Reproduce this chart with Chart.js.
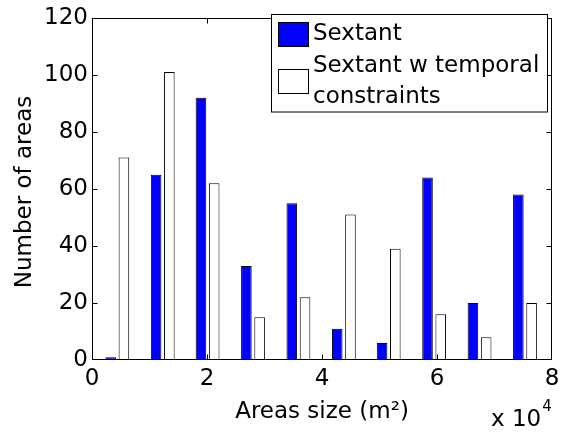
<!DOCTYPE html>
<html>
<head>
<meta charset="utf-8">
<script src="https://cdn.jsdelivr.net/npm/chart.js@4/dist/chart.umd.min.js"></script>
<style>
  html, body { margin: 0; padding: 0; background: #fff; }
  #c { display: block; }
</style>
</head>
<body>
<canvas id="c" width="566" height="434"></canvas>
<script>
// Bin centres (units of 10^4 m^2)
const binCenters = [0.44, 1.23, 2.01, 2.80, 3.59, 4.38, 5.16, 5.95, 6.74, 7.53];
// Number of areas per bin
const sextant         = [1, 65, 92, 33, 55, 11, 6, 64, 20, 58];
const sextantTemporal = [71, 101, 62, 15, 22, 51, 39, 16, 8, 20];
// Labels
const seriesLabels = ['Sextant', ['Sextant w temporal', 'constraints']];
const xTitle = 'Areas size (m\u00B2)';
const yTitle = 'Number of areas';
const xExponent = ['x 10', '4'];
const xTickValues = [0, 2, 4, 6, 8];
const yTickValues = [0, 20, 40, 60, 80, 100, 120];

const FONT = 'DejaVu Sans';
Chart.defaults.font.family = FONT;
Chart.defaults.font.size = 23;
Chart.defaults.color = '#000';

const boxPlugin = {
  id: 'matlabBox',
  afterDraw(chart) {
    const ctx = chart.ctx;
    const a = chart.chartArea;
    const xs = chart.scales.x, ys = chart.scales.y;
    ctx.save();
    ctx.strokeStyle = '#000';
    ctx.lineWidth = 1;
    const L = Math.round(a.left) + 0.5, R = Math.round(a.right) - 0.5;
    const T = Math.round(a.top) + 0.5, B = Math.round(a.bottom) - 0.5;
    ctx.beginPath();
    ctx.rect(L, T, R - L, B - T);
    ctx.stroke();
    const tl = 5;
    const clamp = (v, lo, hi) => Math.min(hi, Math.max(lo, v));
    ctx.beginPath();
    xs.ticks.forEach(t => {
      const p = clamp(Math.round(xs.getPixelForValue(t.value)) + 0.5, L, R);
      ctx.moveTo(p, B); ctx.lineTo(p, B - tl);
      ctx.moveTo(p, T); ctx.lineTo(p, T + tl);
    });
    ys.ticks.forEach(t => {
      const p = clamp(Math.round(ys.getPixelForValue(t.value)) + 0.5, T, B);
      ctx.moveTo(L, p); ctx.lineTo(L + tl, p);
      ctx.moveTo(R, p); ctx.lineTo(R - tl, p);
    });
    ctx.stroke();

    // y axis title
    ctx.fillStyle = '#000';
    ctx.font = '23px "' + FONT + '"';
    ctx.save();
    ctx.translate(25, 192);
    ctx.rotate(-Math.PI / 2);
    ctx.textAlign = 'center';
    ctx.textBaseline = 'middle';
    ctx.fillText(yTitle, 0, 0);
    ctx.restore();

    // x 10^4 multiplier
    ctx.textAlign = 'left';
    ctx.textBaseline = 'alphabetic';
    ctx.font = '23px "' + FONT + '"';
    const bx = 491, by = 426;
    ctx.fillText(xExponent[0], bx, by);
    const w = ctx.measureText(xExponent[0]).width;
    ctx.font = '15px "' + FONT + '"';
    ctx.fillText(xExponent[1], bx + w + 1, by - 15);

    // legend
    const lx = 271.5, ly = 14.5, lw = 276, lh = 97.5;
    ctx.fillStyle = '#fff';
    ctx.fillRect(lx, ly, lw, lh);
    ctx.strokeStyle = '#000';
    ctx.strokeRect(lx, ly, lw, lh);
    ctx.font = '23px "' + FONT + '"';
    ctx.textBaseline = 'middle';
    const lineGap = 31;
    let cy = 34;
    chart.data.datasets.forEach(ds => {
      const lines = Array.isArray(ds.label) ? ds.label : [ds.label];
      const mid = cy + (lines.length - 1) * lineGap / 2;
      ctx.fillStyle = ds.backgroundColor;
      ctx.fillRect(278, Math.round(mid - 12.5), 31, 25);
      ctx.strokeStyle = '#000';
      ctx.strokeRect(278.5, Math.round(mid - 12.5) + 0.5, 30, 24);
      ctx.fillStyle = '#000';
      lines.forEach((ln, i) => ctx.fillText(ln, 313, cy + i * lineGap));
      cy += lines.length * lineGap + 1;
    });
    ctx.restore();
  }
};

new Chart(document.getElementById('c'), {
  type: 'bar',
  data: {
    datasets: [
      {
        label: seriesLabels[0],
        data: binCenters.map((x, i) => ({ x: x, y: sextant[i] })),
        backgroundColor: '#0000ff',
        borderColor: '#000',
        borderWidth: 1,
        borderSkipped: false
      },
      {
        label: seriesLabels[1],
        data: binCenters.map((x, i) => ({ x: x, y: sextantTemporal[i] })),
        backgroundColor: '#ffffff',
        borderColor: '#000',
        borderWidth: 1,
        borderSkipped: false
      }
    ]
  },
  options: {
    responsive: false,
    devicePixelRatio: 1,
    animation: false,
    categoryPercentage: 0.59,
    barPercentage: 0.8,
    layout: { padding: { top: 10, right: 14, left: 0, bottom: 0 } },
    plugins: { legend: { display: false }, tooltip: { enabled: false } },
    scales: {
      x: {
        type: 'linear',
        min: 0, max: 8,
        offset: false,
        afterBuildTicks(s) { s.ticks = xTickValues.map(v => ({ value: v })); },
        afterFit(s) { s.height = 74; },
        grid: { display: false, drawTicks: false },
        border: { display: false },
        ticks: { padding: 5, font: { size: 23, lineHeight: 1.2 }, color: '#000',
                 maxRotation: 0, autoSkip: false },
        title: { display: true, text: xTitle, color: '#000',
                 font: { size: 23, lineHeight: 1.2 }, padding: { top: 0, bottom: 8 } }
      },
      y: {
        min: 0, max: 120,
        afterBuildTicks(s) { s.ticks = yTickValues.map(v => ({ value: v })); },
        afterFit(s) { s.width = 92; },
        grid: { display: false, drawTicks: false },
        border: { display: false },
        ticks: { padding: 4, font: { size: 23 }, color: '#000' }
      }
    }
  },
  plugins: [boxPlugin]
});
</script>
</body>
</html>
